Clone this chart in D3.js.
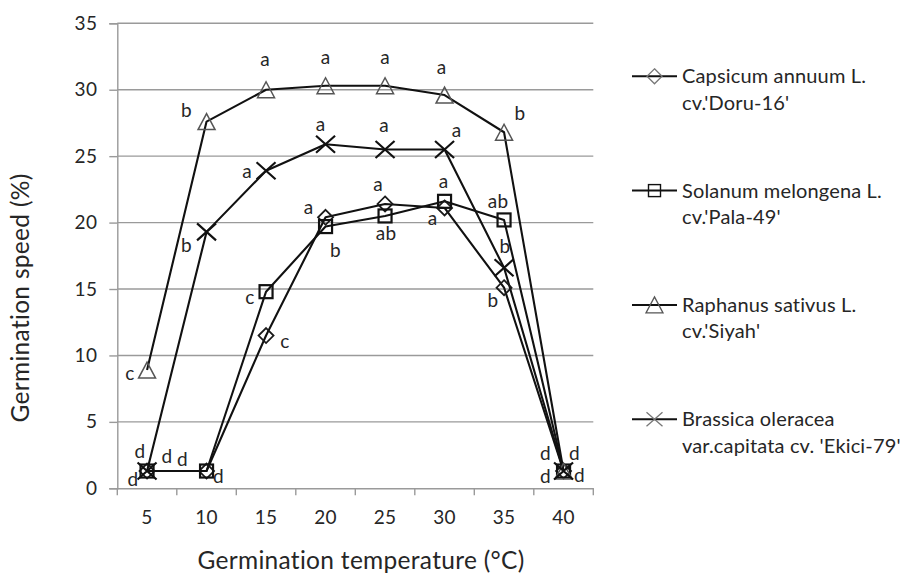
<!DOCTYPE html>
<html><head><meta charset="utf-8">
<script src="https://cdn.jsdelivr.net/npm/d3@7"></script>
<style>
body{margin:0;background:#fff;}
svg{display:block;font-family:Lato,"Open Sans",sans-serif;}
</style></head>
<body><svg id="chart" width="904" height="574"></svg>
<script>
// ---- data ----
const categories = ["5","10","15","20","25","30","35","40"];
const yTicks = [0,5,10,15,20,25,30,35];
const seriesNames = ["Capsicum annuum L.|cv.'Doru-16'","Solanum melongena L.|cv.'Pala-49'","Raphanus sativus L.|cv.'Siyah'","Brassica oleracea|var.capitata cv. 'Ekici-79'"];
const capsicum = [1.3, 1.3, 11.5, 20.4, 21.4, 21.1, 15.1, 1.3];
const solanum  = [1.3, 1.3, 14.8, 19.7, 20.5, 21.6, 20.2, 1.3];
const raphanus = [8.9, 27.6, 30.0, 30.3, 30.3, 29.6, 26.8, 1.3];
const brassica = [1.3, 19.3, 23.9, 25.9, 25.5, 25.5, 16.6, 1.3];
const capsicumLetters = ["d","d","c","a","a","a","b","d"];
const solanumLetters  = ["d","d","c","b","ab","a","ab","d"];
const raphanusLetters = ["c","b","a","a","a","a","b","d"];
const brassicaLetters = ["d","b","a","a","a","a","b","d"];
const xTitle = "Germination temperature (\u00B0C)";
const yTitle = "Germination speed (%)";

// ---- label placement (style, offsets of letter centres from the point) ----
const letterOffsets = [
  [[-14,8],[12,5],[19,7],[-17,-8],[-7,-18],[-12,12],[-11,12],[-18,5]],
  [[-7,-20],[-24,-12],[-16,7],[10,23],[1,17],[-1,-18],[-6,-19],[16,4]],
  [[-17,5],[-20,-12],[-1,-29],[0,-27],[0,-27],[-3,-26],[16,-19],[11,-18]],
  [[20,-15],[-20,13],[-19,2],[-5,-18],[-1,-23],[12,-18],[1,-22],[-18,-18]]
];

const values = [capsicum, solanum, raphanus, brassica];
const letters = [capsicumLetters, solanumLetters, raphanusLetters, brassicaLetters];
const markers = ["diamond","square","triangle","cross"];

const svg = d3.select("#chart");
const plotLeft = 117.3, plotRight = 593.3, plotTop = 23.3, plotBottom = 488.3;
const x = d3.scaleBand().domain(categories).range([plotLeft, plotRight]).padding(0);
const y = d3.scaleLinear().domain([0,35]).range([plotBottom, plotTop]);
const cx = c => x(c) + x.bandwidth()/2;
const gridColor = "#9a9a9a";
const textColor = "#262626";

// gridlines
svg.append("g").selectAll("line").data(yTicks.filter(t=>t>0)).join("line")
  .attr("x1", plotLeft).attr("x2", plotRight).attr("y1", d=>y(d)).attr("y2", d=>y(d))
  .attr("stroke", gridColor).attr("stroke-width", 1.4);

// y axis
const yAxis = svg.append("g").attr("transform", `translate(${plotLeft},0)`)
  .call(d3.axisLeft(y).tickValues(yTicks).tickSize(8).tickPadding(12));
yAxis.select(".domain").attr("stroke", gridColor).attr("stroke-width", 1.4);
yAxis.selectAll(".tick line").attr("stroke", gridColor).attr("stroke-width", 1.4);
yAxis.selectAll(".tick text").attr("font-size", 19).attr("fill", textColor)
  .attr("font-family", "Lato").attr("letter-spacing", 0.4);

// x axis (ticks between categories)
const xAxis = svg.append("g").attr("transform", `translate(0,${plotBottom})`)
  .call(d3.axisBottom(x).tickSize(0).tickPadding(22));
xAxis.select(".domain").attr("stroke", gridColor).attr("stroke-width", 1.4);
xAxis.selectAll(".tick text").attr("font-size", 19).attr("fill", textColor)
  .attr("font-family", "Lato").attr("letter-spacing", 0.4);
const bounds = categories.map(c => x(c)).concat([plotRight]);
xAxis.selectAll("line.sep").data(bounds).join("line").attr("class","sep")
  .attr("x1", d=>d).attr("x2", d=>d).attr("y1", 0).attr("y2", 7)
  .attr("stroke", gridColor).attr("stroke-width", 1.4);

// titles
svg.append("text").attr("x", 361).attr("y", 569).attr("text-anchor","middle")
  .attr("font-size", 24.5).attr("letter-spacing", 0.3).attr("fill", textColor).text(xTitle);
svg.append("text").attr("transform", "translate(29,298) rotate(-90)")
  .attr("text-anchor","middle").attr("font-size", 24.5).attr("letter-spacing", 0.3)
  .attr("fill", textColor).text(yTitle);

// marker drawing
function drawMarker(g, type, px, py, legend) {
  if (type === "diamond") {
    const r = 7.5;
    g.append("path").attr("d", `M${px},${py-r}L${px+r},${py}L${px},${py+r}L${px-r},${py}Z`)
      .attr("fill","none").attr("stroke", legend ? "#777" : "#1a1a1a").attr("stroke-width", legend ? 1.3 : 1.8);
  } else if (type === "square") {
    const s = legend ? 12 : 13;
    g.append("rect").attr("x", px - s/2).attr("y", py - s/2).attr("width", s).attr("height", s)
      .attr("fill","none").attr("stroke", "#111").attr("stroke-width", legend ? 1.4 : 2.2);
  } else if (type === "triangle") {
    const w = 8.5, h = 8;
    g.append("path").attr("d", `M${px},${py-h}L${px+w},${py+h}L${px-w},${py+h}Z`)
      .attr("fill","none").attr("stroke", "#555").attr("stroke-width", legend ? 1.3 : 1.5);
  } else {
    const a = legend ? 8 : 9.5, b = legend ? 7 : 8.5;
    g.append("path").attr("d", `M${px-a},${py-b}L${px+a},${py+b}M${px-a},${py+b}L${px+a},${py-b}`)
      .attr("fill","none").attr("stroke", legend ? "#777" : "#111").attr("stroke-width", legend ? 1.3 : 2.2);
  }
}

const line = d3.line().x((d,i)=>cx(categories[i])).y(d=>y(d));

// lines
values.forEach(v => {
  svg.append("path").datum(v).attr("d", line).attr("fill","none")
    .attr("stroke","#111").attr("stroke-width", 2.1).attr("stroke-linejoin","round");
});
// markers
values.forEach((v, si) => {
  const g = svg.append("g");
  v.forEach((d,i) => drawMarker(g, markers[si], cx(categories[i]), y(d), false));
});
// letters
values.forEach((v, si) => {
  svg.append("g").selectAll("text").data(v).join("text")
    .attr("x", (d,i)=> cx(categories[i]) + letterOffsets[si][i][0])
    .attr("y", (d,i)=> {
      const t = letters[si][i];
      const asc = /[bd]/.test(t) ? 7 : 5;
      return y(d) + letterOffsets[si][i][1] + asc;
    })
    .attr("text-anchor","middle").attr("font-size", 19).attr("letter-spacing", 0.3).attr("fill", textColor)
    .text((d,i)=>letters[si][i]);
});

// legend
const legendTop = 83.3, legendStep = 114.3;
seriesNames.forEach((name, si) => {
  const base = legendTop + si*legendStep;
  const ly = base - 7;
  const g = svg.append("g");
  g.append("line").attr("x1", 632).attr("x2", 677).attr("y1", ly).attr("y2", ly)
    .attr("stroke","#111").attr("stroke-width", 2);
  drawMarker(g, markers[si], 654.5, ly, true);
  const parts = name.split("|");
  const t = g.append("text").attr("x", 682).attr("y", base).attr("font-size", 20)
    .attr("letter-spacing", 0.15).attr("fill", textColor);
  parts.forEach((p, k) => t.append("tspan").attr("x", 682).attr("dy", k === 0 ? 0 : 26.5).text(p));
});
</script>
</body></html>
